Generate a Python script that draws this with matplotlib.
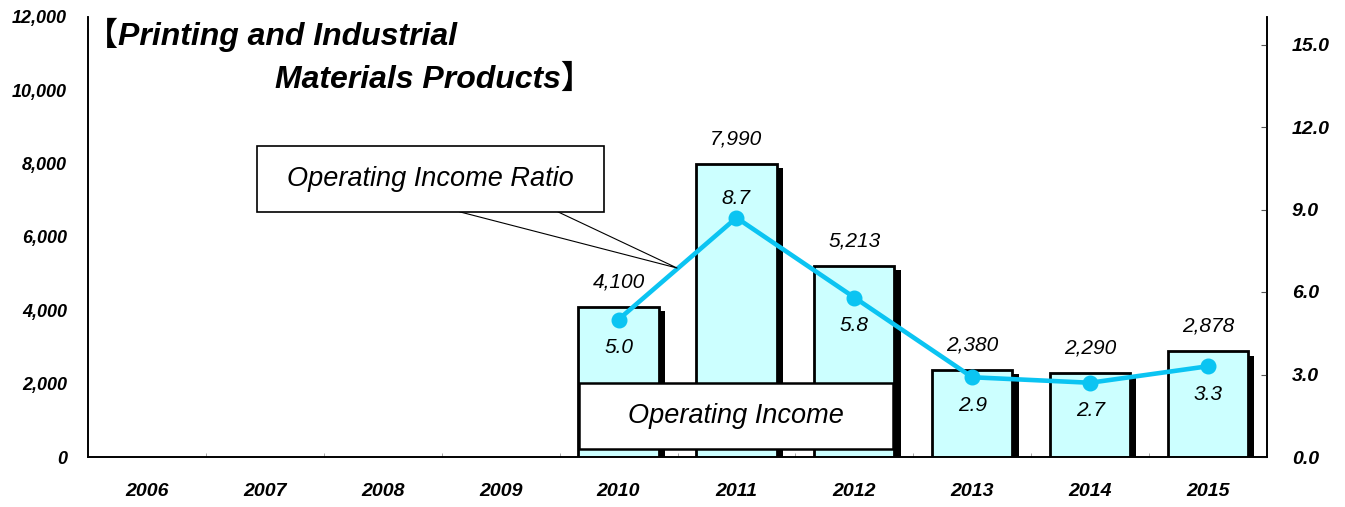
import matplotlib
matplotlib.use('Agg')
import matplotlib.pyplot as plt
import matplotlib.patheffects as pe
from matplotlib.patches import Rectangle
from matplotlib.ticker import FuncFormatter
import numpy as np

# 営業利益（百万円）と営業利益率（%）
years = ['2006', '2007', '2008', '2009', '2010', '2011', '2012', '2013', '2014', '2015']
income_years = ['2010', '2011', '2012', '2013', '2014', '2015']
operating_income = [4100, 7990, 5213, 2380, 2290, 2878]
income_ratio = [5.0, 8.7, 5.8, 2.9, 2.7, 3.3]

FONT = ['Liberation Sans', 'Noto Sans CJK JP']
BAR_COLOR = '#CCFFFF'
LINE_COLOR = '#0BC4F2'

plt.rcParams['font.family'] = FONT

fig = plt.figure(figsize=(13.45, 5.07), dpi=100)
ax = fig.add_axes([88 / 1345, 50 / 507, 1179 / 1345, 440 / 507])
ax2 = ax.twinx()

x_all = np.arange(len(years))
x_inc = np.array([years.index(y) for y in income_years])

# 棒グラフ（影付き）
bars = ax.bar(x_inc, operating_income, width=0.68, color=BAR_COLOR,
              edgecolor='black', linewidth=2, zorder=3)
for b in bars:
    b.set_path_effects([pe.SimplePatchShadow(offset=(4.5, -3), shadow_rgbFace='black', alpha=1.0),
                        pe.Normal()])

for xi, v in zip(x_inc, operating_income):
    ax.annotate(f'{v:,}', (xi, v), xytext=(0, 18), textcoords='offset points',
                ha='center', va='center', fontsize=15, style='italic', zorder=5)

ax.set_xlim(-0.5, len(years) - 0.5)
ax.set_ylim(0, 12000)
ax.set_yticks(np.arange(0, 12001, 2000))
ax.yaxis.set_major_formatter(FuncFormatter(lambda v, p: f'{int(v):,}'))
ax.set_xticks(x_all)
ax.set_xticklabels(years)
ax.set_xticks(np.arange(0.5, len(years) - 0.5, 1.0), minor=True)
ax.tick_params(axis='x', which='major', length=0, pad=19)
ax.tick_params(axis='x', which='minor', direction='in', length=3, color='#999999')
ax.tick_params(axis='y', length=0, pad=15)
for lbl in ax.get_xticklabels():
    lbl.set_fontsize(14)
    lbl.set_fontweight('bold')
    lbl.set_style('italic')
for lbl in ax.get_yticklabels():
    lbl.set_fontsize(13)
    lbl.set_fontweight('bold')
    lbl.set_style('italic')

# 営業利益率（折れ線）
ax2.plot(x_inc, income_ratio, color=LINE_COLOR, linewidth=3.3, marker='o',
         markersize=10.5, zorder=4)
peak = int(np.argmax(income_ratio))
for i, (xi, r) in enumerate(zip(x_inc, income_ratio)):
    dy = 14 if i == peak else -20
    ax2.annotate(f'{r:.1f}', (xi, r), xytext=(0, dy), textcoords='offset points',
                 ha='center', va='center', fontsize=15, style='italic')
ax2.set_ylim(0, 16)
ax2.set_yticks(np.arange(0, 15.1, 3))
ax2.yaxis.set_major_formatter(FuncFormatter(lambda v, p: f'{v:.1f}'))
ax2.tick_params(axis='y', direction='in', length=4, color='#555555', pad=18)
for lbl in ax2.get_yticklabels():
    lbl.set_fontsize(14)
    lbl.set_fontweight('bold')
    lbl.set_style('italic')

for a in (ax, ax2):
    a.spines['top'].set_visible(False)
    for s in ('left', 'right', 'bottom'):
        a.spines[s].set_linewidth(1.2)

# 凡例ボックス：営業利益
ax2.add_patch(Rectangle((0.4165, 0.018), 0.2663, 0.15, transform=ax2.transAxes,
                        facecolor='white', edgecolor='black', linewidth=1.8, zorder=6))
ax2.text(0.5496, 0.093, 'Operating Income', transform=ax2.transAxes, ha='center',
         va='center', fontsize=19.5, style='italic', zorder=7)

# 凡例ボックス：営業利益率（吹き出し）
ax2.plot([0.3155, 0.4996, 0.3987], [0.557, 0.4295, 0.557], transform=ax2.transAxes,
         color='black', linewidth=0.8, zorder=6)
ax2.add_patch(Rectangle((0.1433, 0.557), 0.2944, 0.1498, transform=ax2.transAxes,
                        facecolor='white', edgecolor='black', linewidth=1.2, zorder=6))
ax2.text(0.2905, 0.632, 'Operating Income Ratio', transform=ax2.transAxes, ha='center',
         va='center', fontsize=19.5, style='italic', zorder=7)

# タイトル
fig.text(86 / 1345, 1 - 35 / 507, '【Printing and Industrial', ha='left', va='center',
         fontsize=23, fontweight='bold', style='italic', family=FONT)
fig.text(275 / 1345, 1 - 80 / 507, 'Materials Products】', ha='left', va='center',
         fontsize=23, fontweight='bold', style='italic', family=FONT)

fig.savefig('out.png', dpi=100)
